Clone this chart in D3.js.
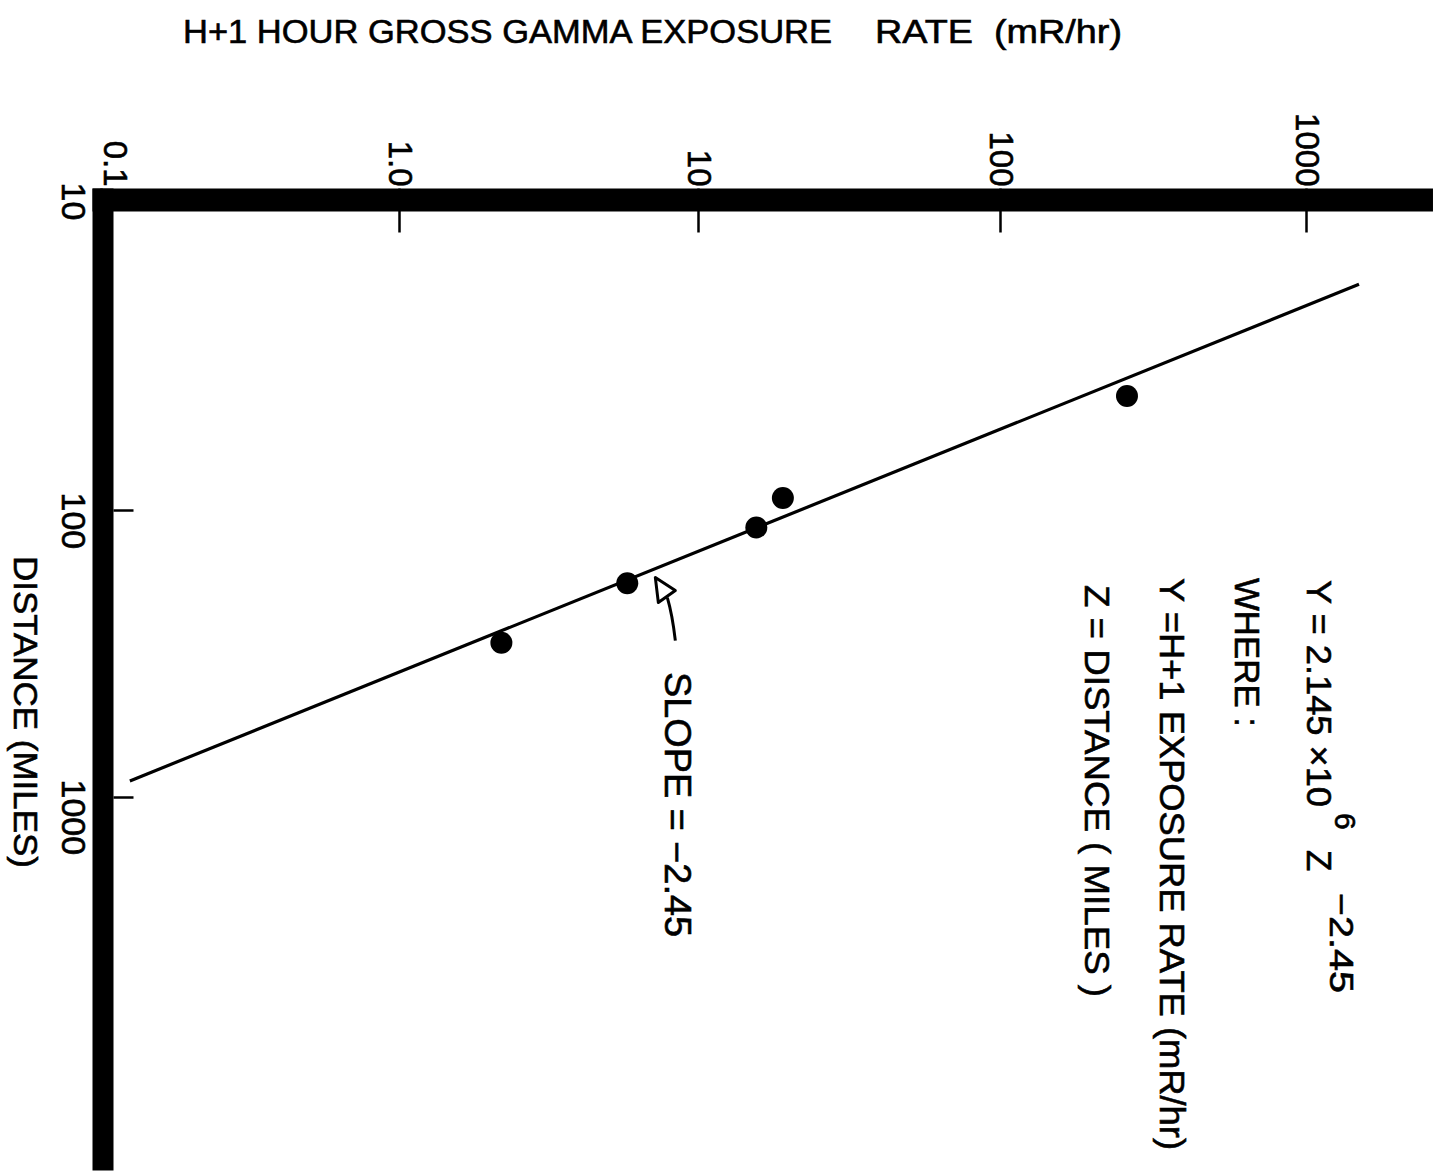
<!DOCTYPE html>
<html><head><meta charset="utf-8">
<script src="https://cdn.jsdelivr.net/npm/d3@7"></script>
<style>
html,body{margin:0;padding:0;background:#fff;}
svg{display:block;}
text{font-family:"Liberation Sans",Arial,Helvetica,sans-serif;fill:#000;stroke:#000;stroke-width:0.6px;white-space:pre;}
</style></head><body>
<svg id="chart" width="1442" height="1173"></svg>
<script>
// ---------- data ----------
const rateTicks = [0.1, 1, 10, 100, 1000];
const rateTickLabels = ["0.1", "1.0", "10", "100", "1000"];
const rateAxisMax = 2600;
const distTicks = [10, 100, 1000];
const distTickLabels = ["10", "100", "1000"];
const distAxisMax = 20000;
const pointRate = [260, 19.1, 15.6, 5.8, 2.2];
const pointDistance = [42.9, 91.5, 115, 180, 290];
const fitRate = [1490, 0.125];
const fitDistance = [18.7, 879];
const titleParts = ["H+1 HOUR GROSS GAMMA EXPOSURE", "RATE  (mR/hr)"];
const yTitle = "DISTANCE (MILES)";
const slopeLabel = "SLOPE = \u22122.45";
const eqMain = "Y = 2.145 \u00d710";
const eqExp1 = "6";
const eqZ = "Z";
const eqExp2 = "\u22122.45";
const whereLines = ["WHERE :", "Y =H+1 EXPOSURE RATE (mR/hr)", "Z = DISTANCE ( MILES )"];
const arrowTipRate = 7.2, arrowTipDist = 172;

// ---------- scales ----------
const svg = d3.select("#chart");
const x = d3.scaleLog().domain(rateTicks).range([101, 399, 698, 1000, 1306]);
const y = d3.scaleLog().domain(distTicks).range([200, 510, 797]);

// ---------- axis bars ----------
const barTopY = 200, barThick = 23, leftBarX = 103, leftBarW = 21;
svg.append("line")
  .attr("x1", leftBarX - leftBarW / 2).attr("x2", x(rateAxisMax))
  .attr("y1", barTopY).attr("y2", barTopY)
  .attr("stroke", "#000").attr("stroke-width", barThick);
svg.append("line")
  .attr("x1", leftBarX).attr("x2", leftBarX)
  .attr("y1", barTopY - barThick / 2).attr("y2", y(distAxisMax))
  .attr("stroke", "#000").attr("stroke-width", leftBarW);

// ---------- top axis ----------
const gx = svg.append("g")
  .attr("transform", `translate(0,${barTopY - barThick / 2})`)
  .call(d3.axisTop(x).tickValues(rateTicks).tickSizeInner(-44).tickSizeOuter(0)
    .tickFormat((d, i) => rateTickLabels[i]));
gx.select(".domain").remove();
gx.attr("font-size", null).attr("font-family", null);
gx.selectAll(".tick line").attr("stroke-width", 2.5);
gx.selectAll(".tick text")
  .attr("x", 0).attr("y", 0).attr("dy", null)
  .attr("font-size", 33)
  .attr("text-anchor", "end")
  .attr("transform", d => `translate(${Math.max(x(d) - 11, 103) - x(d)},-2) rotate(90)`);

// ---------- left axis ----------
const gy = svg.append("g")
  .attr("transform", `translate(${leftBarX + leftBarW / 2},0)`)
  .call(d3.axisLeft(y).tickValues(distTicks).tickSizeInner(-20).tickSizeOuter(0)
    .tickFormat((d, i) => distTickLabels[i]));
gy.select(".domain").remove();
gy.attr("font-size", null).attr("font-family", null);
gy.selectAll(".tick line").attr("stroke-width", 2.5);
gy.selectAll(".tick text")
  .attr("x", 0).attr("y", 0).attr("dy", null)
  .attr("font-size", 34)
  .attr("text-anchor", "start")
  .attr("transform", `translate(${62 - (leftBarX + leftBarW / 2)},-18) rotate(90)`);

// ---------- fit line ----------
const line = d3.line().x(d => x(d[0])).y(d => y(d[1]));
svg.append("path")
  .datum(fitRate.map((r, i) => [r, fitDistance[i]]))
  .attr("d", line)
  .attr("fill", "none").attr("stroke", "#000").attr("stroke-width", 3.2);

// ---------- points ----------
svg.append("g").selectAll("circle")
  .data(pointRate.map((r, i) => [r, pointDistance[i]]))
  .join("circle")
  .attr("cx", d => x(d[0])).attr("cy", d => y(d[1]))
  .attr("r", 11).attr("fill", "#000");

// ---------- text helpers ----------
function rtext(px, py, str, size, len) {
  const t = svg.append("text")
    .attr("transform", `translate(${px},${py}) rotate(90)`)
    .attr("font-size", size)
    .attr("xml:space", "preserve")
    .text(str);
  if (len) t.attr("textLength", len).attr("lengthAdjust", "spacingAndGlyphs");
  return t;
}
function htext(px, py, str, size, len) {
  const t = svg.append("text")
    .attr("x", px).attr("y", py)
    .attr("font-size", size)
    .attr("xml:space", "preserve")
    .text(str);
  if (len) t.attr("textLength", len).attr("lengthAdjust", "spacingAndGlyphs");
  return t;
}

// title
htext(183, 43, titleParts[0], 34, 649);
htext(875, 43, titleParts[1], 34, 247);
// y title
rtext(14, 556, yTitle, 34, 312);

// equation block
rtext(1307, 580, eqMain, 35, 227);
rtext(1335, 813, eqExp1, 30);
rtext(1307, 850, eqZ, 35);
rtext(1330, 893, eqExp2, 34, 100);
rtext(1235, 578, whereLines[0], 35, 149);
rtext(1160, 578, whereLines[1], 35, 572);
rtext(1085, 585, whereLines[2], 35, 412);

// slope label + arrow
rtext(665, 672, slopeLabel, 36, 265);
const tx = x(arrowTipRate), ty = y(arrowTipDist);
svg.append("path")
  .attr("d", `M${tx + 20},${ty + 63} Q${tx + 17},${ty + 37} ${tx + 12},${ty + 20}`)
  .attr("fill", "none").attr("stroke", "#000").attr("stroke-width", 3);
svg.append("path")
  .attr("d", `M${tx},${ty} L${tx + 3},${ty + 25} L${tx + 20},${ty + 13} Z`)
  .attr("fill", "none").attr("stroke", "#000").attr("stroke-width", 3)
  .attr("stroke-linejoin", "round");
</script>
</body></html>
